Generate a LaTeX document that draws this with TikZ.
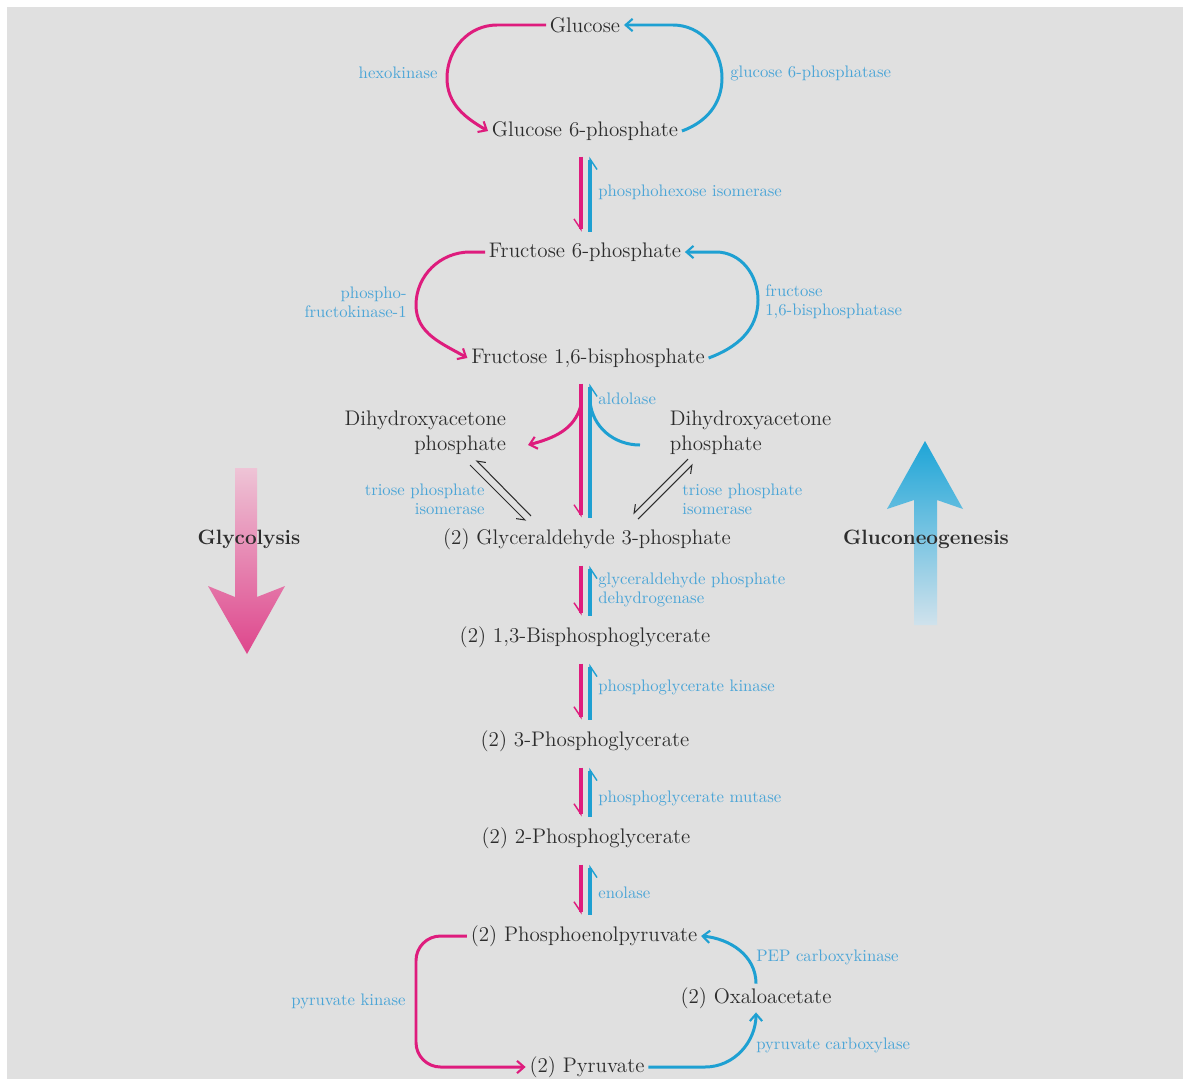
\documentclass[tikz,border=0pt]{standalone}
\usetikzlibrary{arrows.meta,calc}
\definecolor{bg}{RGB}{224,224,224}
\definecolor{glyc}{RGB}{222,28,125}
\definecolor{gneo}{RGB}{30,160,210}
\definecolor{enzc}{RGB}{75,165,215}
\definecolor{txt}{RGB}{45,45,45}
\tikzset{
  met/.style={text=txt, font=\fontsize{12}{14}\selectfont, inner sep=2pt},
  enz/.style={text=enzc, font=\fontsize{9.5}{11}\selectfont, inner sep=0pt, align=left},
  path/.style={text=txt, font=\fontsize{11.8}{14}\selectfont\bfseries},
  fwd/.style={draw=glyc, line width=1.7pt, -{Straight Barb[length=4pt,width=7pt,line width=1.2pt]}},
  rev/.style={draw=gneo, line width=1.7pt, -{Straight Barb[length=4pt,width=7pt,line width=1.2pt]}},
  fwdv/.style={draw=glyc, line width=2.8pt, shorten <=7pt, shorten >=4pt,
    -{Straight Barb[harpoon,swap,length=6pt,width=8pt,line width=0.8pt]}},
  revv/.style={draw=gneo, line width=2.8pt, shorten <=4pt, shorten >=7pt,
    -{Straight Barb[harpoon,swap,length=6pt,width=8pt,line width=0.8pt]}},
  tpi/.style={draw=txt, line width=0.6pt, -{Straight Barb[harpoon,swap,length=4pt,width=6pt]}}
}
\begin{document}
\begin{tikzpicture}[x=0.02cm,y=0.02cm]
  \useasboundingbox (0,0) rectangle (1183,-1079);
  \fill[bg] (7,-7) rectangle (1183,-1079);

  % big direction arrows
  \shade[top color={rgb,255:red,238;green,196;blue,214}, bottom color={rgb,255:red,222;green,70;blue,140}]
    (235,-468) -- (257,-468) -- (257,-597) -- (285,-586) -- (247,-654) -- (208,-586) -- (235,-597) -- cycle;
  \shade[top color={rgb,255:red,30;green,165;blue,215}, bottom color={rgb,255:red,208;green,226;blue,236}]
    (914,-625) -- (937,-625) -- (937,-500) -- (963,-509) -- (925,-441) -- (887,-509) -- (914,-500) -- cycle;
  \node[path] (glycolysis) at (249,-539) {Glycolysis};
  \node[path] (gluconeo) at (926,-539) {Gluconeogenesis};

  % metabolites
  \node[met] (glc) at (585,-25) {Glucose};
  \node[met] (gsixp) at (585,-131) {Glucose 6-phosphate};
  \node[met] (fsixp) at (585,-252) {Fructose 6-phosphate};
  \node[met] (fbp) at (588,-358) {Fructose 1,6-bisphosphate};
  \node[met, align=right, anchor=east] (dhapl) at (510,-433) {Dihydroxyacetone\\phosphate};
  \node[met, align=left, anchor=west] (dhapr) at (666,-433) {Dihydroxyacetone\\phosphate};
  \node[met] (gap) at (587,-539) {(2) Glyceraldehyde 3-phosphate};
  \node[met] (bpg) at (585,-637) {(2) 1,3-Bisphosphoglycerate};
  \node[met] (pgthree) at (585,-741) {(2) 3-Phosphoglycerate};
  \node[met] (pgtwo) at (586,-838) {(2) 2-Phosphoglycerate};
  \node[met] (pep) at (584,-936) {(2) Phosphoenolpyruvate};
  \node[met] (oaa) at (756,-998) {(2) Oxaloacetate};
  \node[met] (pyr) at (587,-1067) {(2) Pyruvate};

  % enzymes
  \node[enz, anchor=east] (hk) at (438,-73) {hexokinase};
  \node[enz, anchor=west] (gsixpase) at (730,-73) {glucose 6-phosphatase};
  \node[enz, anchor=west] (phi) at (598,-192) {phosphohexose isomerase};
  \node[enz, anchor=east, align=right] (pfk) at (407,-302) {phospho-\\fructokinase-1};
  \node[enz, anchor=west] (fbpase) at (765,-302) {fructose\\1,6-bisphosphatase};
  \node[enz, anchor=west] (ald) at (598,-399) {aldolase};
  \node[enz, anchor=east, align=right] (tpil) at (485,-499) {triose phosphate\\isomerase};
  \node[enz, anchor=west] (tpir) at (682,-499) {triose phosphate\\isomerase};
  \node[enz, anchor=west] (gapdh) at (598,-590) {glyceraldehyde phosphate\\dehydrogenase};
  \node[enz, anchor=west] (pgk) at (598,-687) {phosphoglycerate kinase};
  \node[enz, anchor=west] (pgm) at (598,-798) {phosphoglycerate mutase};
  \node[enz, anchor=west] (eno) at (598,-893) {enolase};
  \node[enz, anchor=west] (pepck) at (756,-957) {PEP carboxykinase};
  \node[enz, anchor=east] (pk) at (406,-1001) {pyruvate kinase};
  \node[enz, anchor=west] (pc) at (756,-1045) {pyruvate carboxylase};

  % reversible steps
  \coordinate (ml) at (581,0);
  \coordinate (bl) at (590,0);
  \foreach \a/\b in {gsixp/fsixp,fbp/gap,gap/bpg,bpg/pgthree,pgthree/pgtwo,pgtwo/pep} {
    \draw[fwdv] (\a.south -| ml) -- (\b.north -| ml);
    \draw[revv] (\b.north -| bl) -- (\a.south -| bl);
  }
  \draw[fwd] ($(fbp.south -| ml)+(0,-34)$) to[out=-105,in=15] ($(dhapl.east)+(18,-12)$);
  \draw[gneo, line width=1.7pt] ($(dhapr.west)+(-26,-12)$) to[out=180,in=-85] ($(fbp.south -| bl)+(0,-30)$);

  % triose phosphate isomerase
  \draw[tpi] (470,-465) -- (526,-521);
  \draw[tpi] (531,-516) -- (476,-460);
  \draw[tpi] (688,-459) -- (633,-514);
  \draw[tpi] (638,-519) -- (693,-464);

  % bypass loops
  \draw[fwd] (glc.west) -- (497,-25) to[out=180,in=90] (447,-78) to[out=-90,in=150] (gsixp.west);
  \draw[rev] (gsixp.east) to[out=20,in=-90] (722,-78) to[out=90,in=0] (673,-25) -- (glc.east);
  \draw[fwd] (fsixp.west) -- (470,-252) to[out=180,in=90] (416,-305) to[out=-90,in=150] (fbp.west);
  \draw[rev] (fbp.east) to[out=20,in=-90] (758,-300) to[out=90,in=0] (716,-252) -- (fsixp.east);
  \draw[fwd, rounded corners=14pt] (pep.west) -- (416,-936) -- (416,-1067) -- (pyr.west);
  \draw[rev] (pyr.east) -- (705,-1067) to[out=0,in=-90] (oaa.south);
  \draw[rev] (oaa.north) to[out=90,in=-5] (pep.east);
\end{tikzpicture}
\end{document}
